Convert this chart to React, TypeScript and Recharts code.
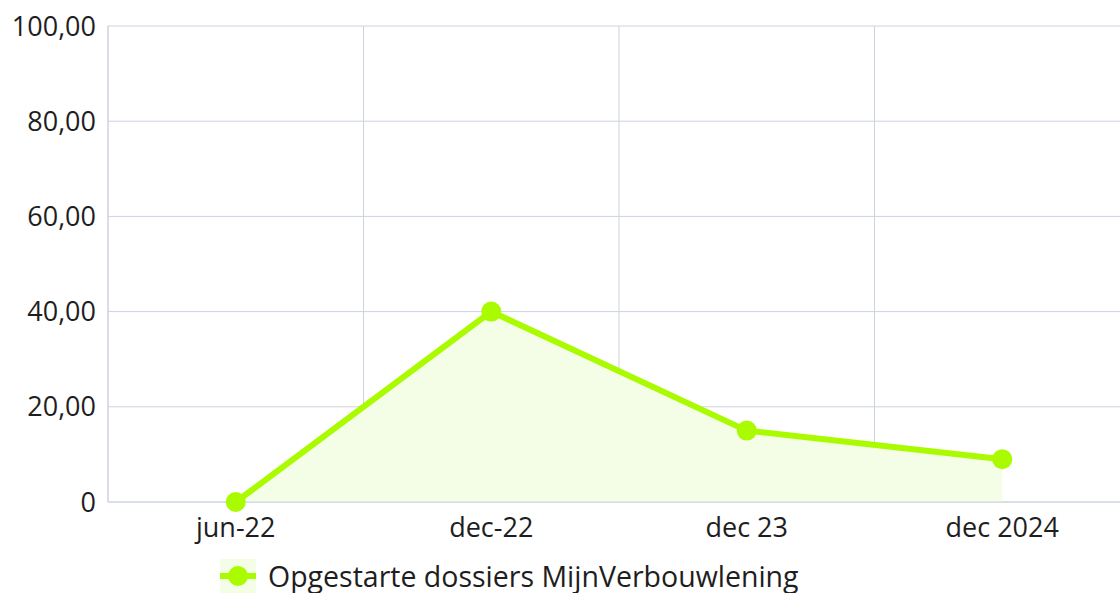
import { Area, AreaChart, CartesianGrid, Legend, XAxis, YAxis } from "recharts";

const periodes = ["jun-22", "dec-22", "dec 23", "dec 2024"];
const dossiers = [0, 40, 15, 9];
const yTicks = [0, 20, 40, 60, 80, 100];
const reeksNaam = "Opgestarte dossiers MijnVerbouwlening";

const data = periodes.map((p, i) => ({ periode: p, dossiers: dossiers[i] }));

const GROEN = "#aafa00";
const VULLING = "#f4fde6";
const RASTER = "#ccd3e0";
const FONT = "'Open Sans', 'Noto Sans', sans-serif";
const TICK = { fontSize: 27, fill: "#1e1e1e", fontFamily: FONT };

const fmt = (v: number) => (v === 0 ? "0" : v.toFixed(2).replace(".", ","));

function LegendaInhoud() {
  return (
    <div
      style={{
        display: "flex",
        alignItems: "center",
        height: 34,
        lineHeight: "34px",
        marginLeft: 220,
        fontFamily: FONT,
        fontSize: 28.5,
        color: "#1e1e1e",
      }}
    >
      <svg width={36} height={34} style={{ marginRight: 12, display: "block" }}>
        <rect x={0} y={0} width={36} height={34} fill={VULLING} />
        <line x1={0} y1={17} x2={36} y2={17} stroke={GROEN} strokeWidth={6} />
        <circle cx={18} cy={17} r={10} fill={GROEN} />
      </svg>
      <span>{reeksNaam}</span>
    </div>
  );
}

export default function App() {
  return (
    <div style={{ position: "absolute", left: 0, top: 0, background: "#fff", overflow: "hidden", width: 1120, height: 593 }}>
      <AreaChart
        width={1120}
        height={593}
        data={data}
        margin={{ top: 26, right: -10, bottom: 0, left: 0 }}
      >
        <CartesianGrid
          stroke={RASTER}
          verticalCoordinatesGenerator={({ offset }: any) =>
            periodes.map((_, i) => offset.left + (i * offset.width) / periodes.length)
          }
        />
        <XAxis
          dataKey="periode"
          scale="band"
          tick={TICK}
          tickLine={false}
          axisLine={{ stroke: RASTER }}
          height={57}
          tickMargin={10}
        />
        <YAxis
          domain={[0, 100]}
          ticks={yTicks}
          tickFormatter={fmt}
          tick={TICK}
          tickLine={false}
          axisLine={{ stroke: RASTER }}
          width={108}
          tickMargin={6}
        />
        <Legend
          verticalAlign="bottom"
          align="left"
          wrapperStyle={{ bottom: 0 }}
          content={<LegendaInhoud />}
        />
        <Area
          type="linear"
          dataKey="dossiers"
          name={reeksNaam}
          stroke={GROEN}
          strokeWidth={6}
          fill={VULLING}
          fillOpacity={1}
          dot={{ r: 10, fill: GROEN, stroke: GROEN, strokeWidth: 0 }}
          activeDot={false}
          isAnimationActive={false}
        />
      </AreaChart>
    </div>
  );
}
